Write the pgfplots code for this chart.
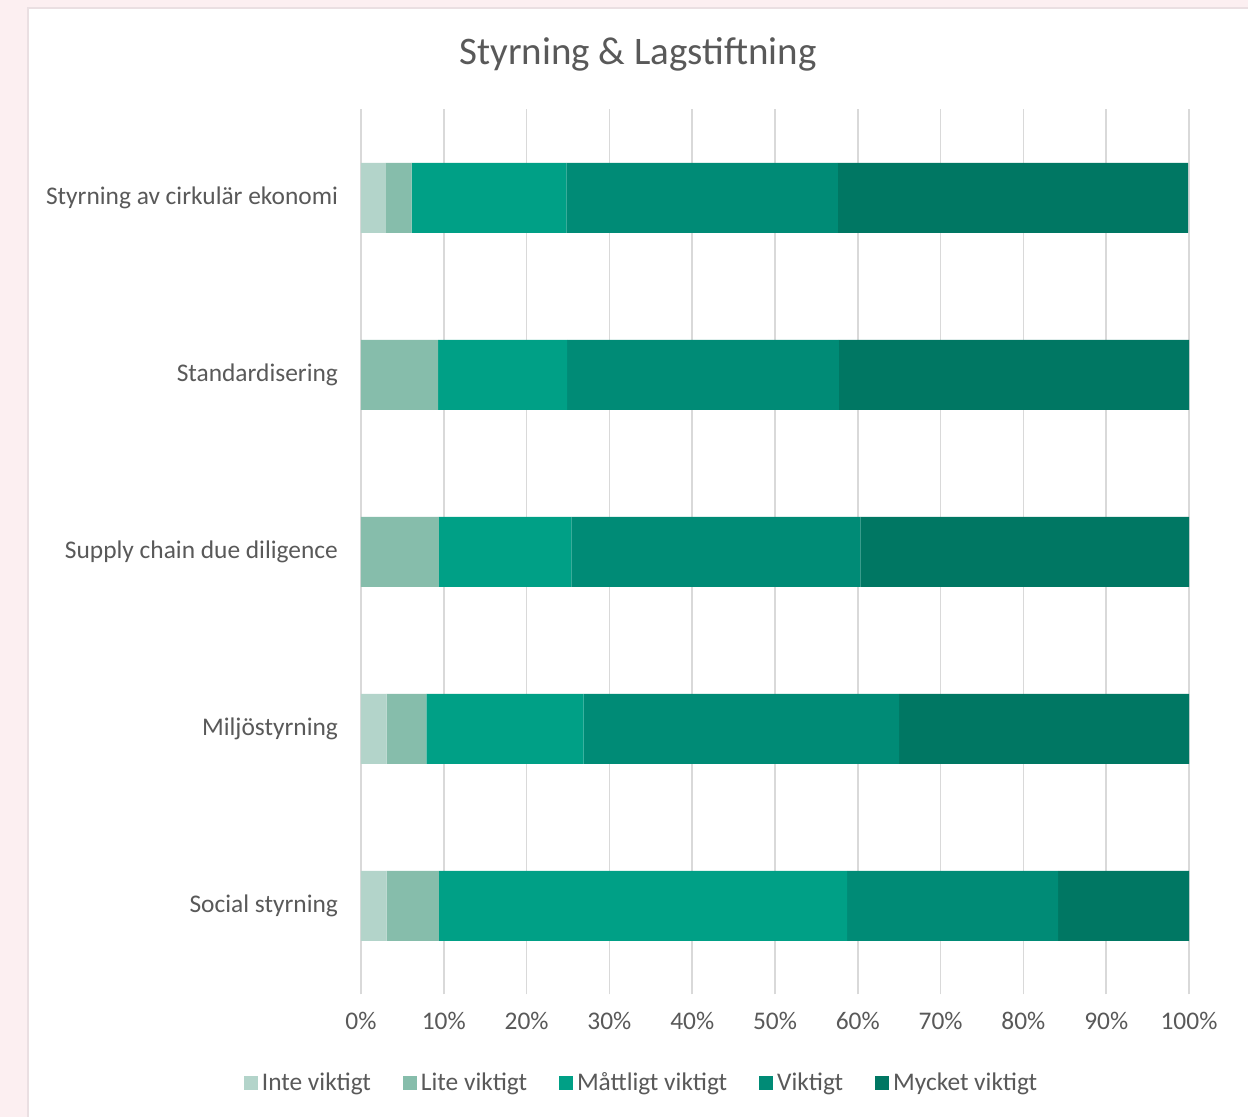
\documentclass[border=0pt]{standalone}
\usepackage{fontspec}
\setmainfont{Carlito}
\usepackage{pgfplots}
\pgfplotsset{compat=1.18}
\definecolor{txt}{HTML}{595959}
\definecolor{gridc}{HTML}{D9D9D9}
\definecolor{cA}{HTML}{B3D4CA}
\definecolor{cB}{HTML}{86BDAB}
\definecolor{cC}{HTML}{00A086}
\definecolor{cD}{HTML}{008B76}
\definecolor{cE}{HTML}{007763}
\definecolor{bgpink}{HTML}{FCEFF1}
\definecolor{frame}{HTML}{EADFE2}
\begin{document}
\begin{tikzpicture}
\useasboundingbox (0pt,0pt) rectangle (624pt,558.5pt);
\fill[bgpink] (0pt,0pt) rectangle (624pt,558.5pt);
\fill[white] (14pt,0pt) rectangle (624pt,554.5pt);
\draw[frame,line width=0.6pt] (14pt,-1pt) -- (14pt,554.5pt) -- (625pt,554.5pt);
\node[font=\fontsize{19.5}{23}\selectfont,text=txt] at (319pt,531.5pt) {Styrning \& Lagstiftning};
\begin{axis}[
  at={(180.5pt,61.25pt)}, anchor=south west,
  scale only axis, width=414pt, height=442.5pt,
  xbar stacked, bar width=35pt,
  xmin=0, xmax=100, ymin=-0.5, ymax=4.5,
  xtick={0,10,...,100},
  xticklabel={\pgfmathprintnumber{\tick}\%},
  ytick={0,1,2,3,4},
  yticklabels={Social styrning, Miljöstyrning, Supply chain due diligence, Standardisering, Styrning av cirkulär ekonomi},
  xmajorgrids, major grid style={gridc, line width=0.8pt},
  axis line style={draw=none},
  major tick length=0pt,
  /pgf/number format/assume math mode=true,
  tick label style={text=txt, font=\fontsize{12.7}{15}\selectfont},
  xticklabel style={yshift=-5.5pt},
  yticklabel style={xshift=-8pt},
  legend style={at={(0.34,-0.1)}, anchor=center, draw=none, fill=none,
    legend columns=-1, font=\fontsize{12.7}{15}\selectfont, text=txt,
    /tikz/every even column/.append style={column sep=14pt}},
  legend image code/.code={\fill[#1] (0pt,-3.5pt) rectangle (7pt,3.5pt);},
  legend cell align=left,
]
\addplot[fill=cA, draw=none] coordinates {(3.1,0) (3.1,1) (0,2) (0,3) (3.0,4)};
\addplot[fill=cB, draw=none] coordinates {(6.3,0) (4.8,1) (9.4,2) (9.3,3) (3.1,4)};
\addplot[fill=cC, draw=none] coordinates {(49.3,0) (19.0,1) (16.0,2) (15.6,3) (18.7,4)};
\addplot[fill=cD, draw=none] coordinates {(25.5,0) (38.1,1) (34.9,2) (32.8,3) (32.8,4)};
\addplot[fill=cE, draw=none] coordinates {(15.8,0) (35.0,1) (39.7,2) (42.3,3) (42.3,4)};
\legend{Inte viktigt, Lite viktigt, Måttligt viktigt, Viktigt, Mycket viktigt}
\end{axis}
\end{tikzpicture}
\end{document}
